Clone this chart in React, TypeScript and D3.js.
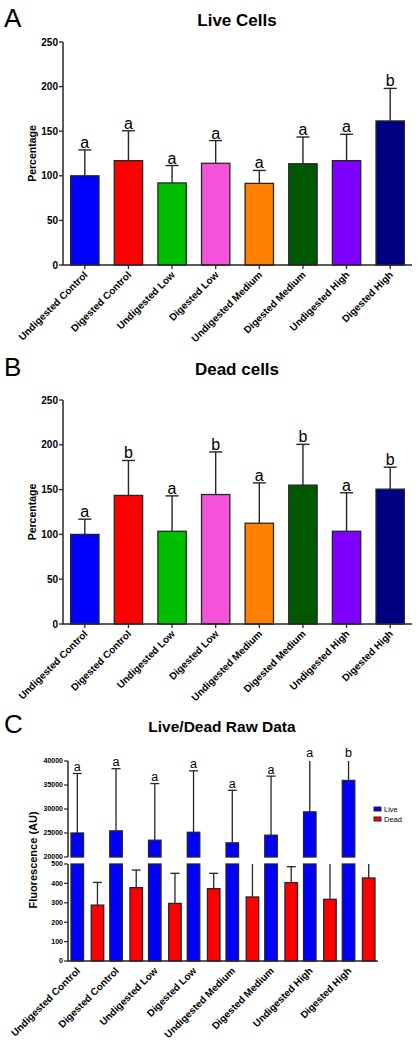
import React from "react";
import * as d3 from "d3";

const categories = [
  "Undigested Control",
  "Digested Control",
  "Undigested Low",
  "Digested Low",
  "Undigested Medium",
  "Digested Medium",
  "Undigested High",
  "Digested High",
];
const barColors = ["#0000FF", "#FF0000", "#00BF00", "#F452D9", "#FF8000", "#005800", "#8000FF", "#000080"];

// Panel A: Live cells (% of control)
const liveMean = [100, 117, 92, 114, 91.5, 113.5, 117, 161.5];
const liveSD = [29, 33.5, 19.5, 25.5, 14.5, 30, 29.5, 36.5];
const liveLetters = ["a", "a", "a", "a", "a", "a", "a", "b"];

// Panel B: Dead cells (% of control)
const deadMean = [100, 143.5, 103.5, 144.5, 112.5, 155, 103.5, 150.5];
const deadSD = [17, 39, 39.5, 47.5, 45, 45.5, 43, 24.5];
const deadLetters = ["a", "b", "a", "b", "a", "b", "a", "b"];

// Panel C: raw fluorescence (AU)
const series = ["Live", "Dead"];
const seriesColors = ["#0000FF", "#FF0000"];
const rawLiveMean = [25000, 25450, 23500, 25150, 22950, 24550, 29400, 35950];
const rawLiveSD = [12400, 12950, 11800, 12800, 10950, 12300, 12000, 6000];
const rawDeadMean = [288, 378, 297, 373, 330, 404, 318, 428];
const rawDeadSD = [117, 91, 155, 79, 230, 82, 250, 110];
const rawLetters = ["a", "a", "a", "a", "a", "a", "a", "b"];

const pctTicks = [0, 50, 100, 150, 200, 250];
const upperTicks = [20000, 25000, 30000, 35000, 40000];
const lowerTicks = [0, 100, 200, 300, 400, 500];

const FONT = "'Liberation Sans', Arial, Helvetica, sans-serif";
const INK = "#262626";

function PercentPanel({ letter, title, mean, sd, letters, yTop, yBottom, titleY }: any) {
  const x = d3.scaleBand<string>().domain(categories).range([63, 412]).paddingInner(0.35).paddingOuter(0.175);
  const y = d3.scaleLinear().domain([0, 250]).range([yBottom, yTop]);
  const capW = 13;
  return (
    <g>
      <text x={4} y={titleY + 1} fontSize={26} fontFamily={FONT} fill="#000">{letter}</text>
      <text x={237} y={titleY} fontSize={17} fontWeight="bold" fontFamily={FONT} textAnchor="middle" fill="#000">{title}</text>
      {categories.map((c, i) => {
        const bx = x(c)!;
        const cx = bx + x.bandwidth() / 2;
        const top = y(mean[i]);
        const ey = y(mean[i] + sd[i]);
        return (
          <g key={c}>
            <line x1={cx} x2={cx} y1={top} y2={ey} stroke={INK} strokeWidth={1.4} />
            <line x1={cx - capW / 2} x2={cx + capW / 2} y1={ey} y2={ey} stroke={INK} strokeWidth={1.4} />
            <rect x={bx} y={top} width={x.bandwidth()} height={yBottom - top} fill={barColors[i]} stroke={INK} strokeWidth={1.3} />
            <text x={cx} y={ey - 2} fontSize={16} fontFamily={FONT} textAnchor="middle" fill="#000">{letters[i]}</text>
            <line x1={cx} x2={cx} y1={yBottom} y2={yBottom + 4} stroke={INK} strokeWidth={1.3} />
            <text
              transform={`translate(${cx + 1},${yBottom + 8}) rotate(-45)`}
              dy="0.35em"
              fontSize={10}
              fontWeight="bold"
              fontFamily={FONT}
              textAnchor="end"
              fill="#000"
            >
              {c}
            </text>
          </g>
        );
      })}
      <line x1={63} x2={63} y1={yTop} y2={yBottom} stroke={INK} strokeWidth={1.5} />
      <line x1={62.25} x2={412} y1={yBottom} y2={yBottom} stroke={INK} strokeWidth={1.5} />
      {pctTicks.map((t) => (
        <g key={t}>
          <line x1={59} x2={63} y1={y(t)} y2={y(t)} stroke={INK} strokeWidth={1.3} />
          <text x={58} y={y(t)} dy="0.35em" fontSize={10} fontWeight="bold" fontFamily={FONT} textAnchor="end" fill="#000">{t}</text>
        </g>
      ))}
      <text
        transform={`translate(36,${(yTop + yBottom) / 2}) rotate(-90)`}
        fontSize={10.5}
        fontWeight="bold"
        fontFamily={FONT}
        textAnchor="middle"
        fill="#000"
      >
        Percentage
      </text>
    </g>
  );
}

function RawPanel() {
  const x0 = d3.scaleBand<string>().domain(categories).range([68, 378]);
  const x1 = d3.scaleBand<string>().domain(series).range([0, x0.bandwidth()]).paddingInner(0.38).paddingOuter(0.15);
  const yU = d3.scaleLinear().domain([20000, 40000]).range([857, 761]);
  const yL = d3.scaleLinear().domain([0, 500]).range([961, 864]);
  const capW = 9;
  const bw = x1.bandwidth();
  return (
    <g>
      <text x={4} y={733} fontSize={26} fontFamily={FONT} fill="#000">C</text>
      <text x={222} y={732} fontSize={15.5} fontWeight="bold" fontFamily={FONT} textAnchor="middle" fill="#000">Live/Dead Raw Data</text>
      {categories.map((c, i) => {
        const bxL = x0(c)! + x1("Live")!;
        const bxD = x0(c)! + x1("Dead")!;
        const cL = bxL + bw / 2;
        const cD = bxD + bw / 2;
        const liveTop = yU(rawLiveMean[i]);
        const liveErrV = rawLiveMean[i] + rawLiveSD[i];
        const liveErr = yU(Math.min(liveErrV, 40000));
        const liveCapped = liveErrV <= 40000;
        const deadTop = yL(rawDeadMean[i]);
        const deadErrV = rawDeadMean[i] + rawDeadSD[i];
        const deadErr = yL(Math.min(deadErrV, 500));
        const deadCapped = deadErrV <= 500;
        return (
          <g key={c}>
            <line x1={cL} x2={cL} y1={liveTop} y2={liveErr} stroke={INK} strokeWidth={1.3} />
            {liveCapped && <line x1={cL - capW / 2} x2={cL + capW / 2} y1={liveErr} y2={liveErr} stroke={INK} strokeWidth={1.3} />}
            <rect x={bxL} y={liveTop} width={bw} height={857 - liveTop} fill={seriesColors[0]} stroke={INK} strokeWidth={1.3} />
            <rect x={bxL} y={864} width={bw} height={961 - 864} fill={seriesColors[0]} stroke={INK} strokeWidth={1.3} />
            <text x={cL} y={liveErr - (liveCapped ? 2.5 : 4)} fontSize={12.5} fontFamily={FONT} textAnchor="middle" fill="#000">{rawLetters[i]}</text>
            <line x1={cD} x2={cD} y1={deadTop} y2={deadErr} stroke={INK} strokeWidth={1.3} />
            {deadCapped && <line x1={cD - capW / 2} x2={cD + capW / 2} y1={deadErr} y2={deadErr} stroke={INK} strokeWidth={1.3} />}
            <rect x={bxD} y={deadTop} width={bw} height={961 - deadTop} fill={seriesColors[1]} stroke={INK} strokeWidth={1.3} />
            <text
              transform={`translate(${cL + 1},${969}) rotate(-45)`}
              dy="0.35em"
              fontSize={10}
              fontWeight="bold"
              fontFamily={FONT}
              textAnchor="end"
              fill="#000"
            >
              {c}
            </text>
          </g>
        );
      })}
      <line x1={68} x2={68} y1={761} y2={857} stroke={INK} strokeWidth={1.5} />
      <line x1={68} x2={68} y1={864} y2={961} stroke={INK} strokeWidth={1.5} />
      <line x1={67.25} x2={378} y1={961} y2={961} stroke={INK} strokeWidth={1.5} />
      {upperTicks.map((t) => (
        <g key={t}>
          <line x1={64} x2={68} y1={yU(t)} y2={yU(t)} stroke={INK} strokeWidth={1.2} />
          <text x={63} y={yU(t)} dy="0.35em" fontSize={7} fontWeight="bold" fontFamily={FONT} textAnchor="end" fill="#000">{t}</text>
        </g>
      ))}
      {lowerTicks.map((t) => (
        <g key={t}>
          <line x1={64} x2={68} y1={yL(t)} y2={yL(t)} stroke={INK} strokeWidth={1.2} />
          <text x={63} y={yL(t)} dy="0.35em" fontSize={7} fontWeight="bold" fontFamily={FONT} textAnchor="end" fill="#000">{t}</text>
        </g>
      ))}
      <text
        transform={`translate(37,860) rotate(-90)`}
        fontSize={11}
        fontWeight="bold"
        fontFamily={FONT}
        textAnchor="middle"
        fill="#000"
      >
        Fluorescence (AU)
      </text>
      {series.map((s, i) => (
        <g key={s}>
          <rect x={374} y={807 + i * 10} width={7} height={4} fill={seriesColors[i]} stroke={INK} strokeWidth={1} />
          <text x={384} y={809 + i * 10} dy="0.35em" fontSize={7.5} fontFamily={FONT} fill="#000">{s}</text>
        </g>
      ))}
    </g>
  );
}

export default function App() {
  return (
    <svg
      width={419}
      height={1040}
      viewBox="0 0 419 1040"
      style={{ position: "absolute", left: 0, top: 0, background: "#fff" }}
    >
      <rect width={419} height={1040} fill="#fff" />
      <PercentPanel letter="A" title="Live Cells" mean={liveMean} sd={liveSD} letters={liveLetters} yTop={42} yBottom={265} titleY={26} />
      <PercentPanel letter="B" title="Dead cells" mean={deadMean} sd={deadSD} letters={deadLetters} yTop={400} yBottom={624} titleY={375} />
      <RawPanel />
    </svg>
  );
}
